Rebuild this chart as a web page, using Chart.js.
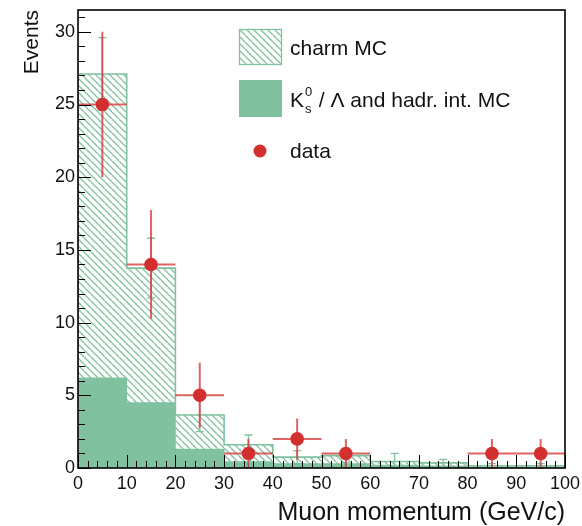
<!DOCTYPE html>
<html lang="en">
<head>
<meta charset="UTF-8">
<title>Muon momentum spectrum</title>
<script src="https://cdn.jsdelivr.net/npm/chart.js"></script>
<style>
  body { margin:0; background:#fff; }
  canvas { display:block; }
</style>
</head>
<body>
<canvas id="muonChart" width="582" height="526"></canvas>
<script>
// 10 GeV/c wide momentum bins, given by their centres
const binCentres = [5, 15, 25, 35, 45, 55, 65, 75, 85, 95];
const binHalfWidth = 5;

// stacked MC: hadronic background at the bottom, charm on top
const hadrMC  = [6.2, 4.5, 1.3, 0.45, 0.3, 0.3, 0.2, 0.15, 0.07, 0.07];
const charmMC = [20.9, 9.25, 2.35, 1.15, 0.45, 0.55, 0.25, 0.2, 0.08, 0.08];
const mcErr   = [2.5, 2.05, 1.15, 0.67, 0.45, 0.5, 0.55, 0.25, 0.15, 0.15];

// measured events (null = empty bin)
const dataEvents = [25, 14, 5, 1, 2, 1, null, null, 1, 1];
const dataErr    = [5, 3.74, 2.24, 1, 1.41, 1, null, null, 1, 1];

const xTickValues = [0, 10, 20, 30, 40, 50, 60, 70, 80, 90, 100];
const yTickValues = [0, 5, 10, 15, 20, 25, 30];
const xMinorStep = 2, yMinorStep = 1;

const GREEN = '#80c1a0';
const RED = '#d32f2f';
const RED_LINE = 'rgba(214,60,60,0.8)';
const FONT = '"Liberation Sans", Arial, sans-serif';

const ctx = document.getElementById('muonChart').getContext('2d');

// diagonal "\\\" hatching for the charm component
function hatch(color) {
  const s = 7;
  const c = document.createElement('canvas');
  c.width = s; c.height = s;
  const g = c.getContext('2d');
  g.strokeStyle = color; g.lineWidth = 1.3;
  g.beginPath();
  for (let k = -1; k <= 1; k++) { g.moveTo(k * s, 0); g.lineTo(k * s + s, s); }
  g.stroke();
  return ctx.createPattern(c, 'repeat');
}
const hatchFill = hatch(GREEN);

const mcTotal = hadrMC.map((h, i) => h + charmMC[i]);
const last = binCentres.length - 1;

// step outline of the stacked MC (each point holds until the next x)
const outline = [{ x: binCentres[0] - binHalfWidth, y: 0 }];
binCentres.forEach((c, i) => outline.push({ x: c - binHalfWidth, y: mcTotal[i] }));
outline.push({ x: binCentres[last] + binHalfWidth, y: mcTotal[last] });
outline.push({ x: binCentres[last] + binHalfWidth, y: 0 });

const dataPoints = binCentres
  .map((c, i) => ({ x: c, y: dataEvents[i] }))
  .filter(p => p.y !== null);

// error bars: MC total uncertainty (green) and data (red), under the markers
const errorBars = {
  id: 'errorBars',
  beforeDatasetDraw(chart, args) {
    if (chart.data.datasets[args.index].label !== 'data') return;
    const { ctx, scales: { x, y } } = chart;
    ctx.save();
    ctx.strokeStyle = GREEN; ctx.lineWidth = 1.3;
    binCentres.forEach((c, i) => {
      const px = x.getPixelForValue(c);
      const lo = y.getPixelForValue(Math.max(0, mcTotal[i] - mcErr[i]));
      const hi = y.getPixelForValue(mcTotal[i] + mcErr[i]);
      ctx.beginPath();
      ctx.moveTo(px, lo); ctx.lineTo(px, hi);
      ctx.moveTo(px - 4, lo); ctx.lineTo(px + 4, lo);
      ctx.moveTo(px - 4, hi); ctx.lineTo(px + 4, hi);
      ctx.stroke();
    });
    ctx.strokeStyle = RED_LINE; ctx.lineWidth = 2;
    binCentres.forEach((c, i) => {
      if (dataEvents[i] === null) return;
      const px = x.getPixelForValue(c), py = y.getPixelForValue(dataEvents[i]);
      ctx.beginPath();
      ctx.moveTo(x.getPixelForValue(c - binHalfWidth), py);
      ctx.lineTo(x.getPixelForValue(c + binHalfWidth), py);
      ctx.moveTo(px, y.getPixelForValue(Math.max(0, dataEvents[i] - dataErr[i])));
      ctx.lineTo(px, y.getPixelForValue(dataEvents[i] + dataErr[i]));
      ctx.stroke();
    });
    ctx.restore();
  }
};

// ROOT-style frame with inward major/minor ticks
const frame = {
  id: 'frame',
  afterDatasetsDraw(chart) {
    const { ctx, chartArea: a, scales: { x, y } } = chart;
    ctx.save();
    ctx.strokeStyle = '#000'; ctx.lineWidth = 1;
    ctx.beginPath();
    for (let v = x.min; v <= x.max + 1e-9; v += xMinorStep) {
      const px = Math.round(x.getPixelForValue(v)) + 0.5;
      const len = v % 10 === 0 ? 13 : 7;
      ctx.moveTo(px, a.bottom); ctx.lineTo(px, a.bottom - len);
    }
    for (let v = y.min; v <= y.max + 1e-9; v += yMinorStep) {
      const py = Math.round(y.getPixelForValue(v)) + 0.5;
      const len = v % 5 === 0 ? 13 : 7;
      ctx.moveTo(a.left, py); ctx.lineTo(a.left + len, py);
    }
    ctx.stroke();
    ctx.lineWidth = 1.6;
    ctx.strokeRect(a.left, a.top, a.right - a.left, a.bottom - a.top);
    ctx.restore();
  }
};

const legend = {
  id: 'histLegend',
  afterDraw(chart) {
    const { ctx } = chart;
    ctx.save();
    ctx.fillStyle = hatchFill;
    ctx.fillRect(239, 29, 43, 36);
    ctx.strokeStyle = GREEN; ctx.lineWidth = 1.3;
    ctx.strokeRect(239.5, 29.5, 42, 35);
    ctx.fillStyle = GREEN;
    ctx.fillRect(239, 80, 43, 37);
    ctx.fillStyle = RED;
    ctx.beginPath(); ctx.arc(260, 151, 6.5, 0, Math.PI * 2); ctx.fill();

    ctx.fillStyle = '#111';
    ctx.textBaseline = 'alphabetic';
    ctx.font = '21px ' + FONT;
    ctx.fillText('charm MC', 290, 55);
    ctx.fillText('K', 290, 107);
    const kw = ctx.measureText('K').width;
    ctx.fillText(' / \u039b and hadr. int. MC', 290 + kw + 9, 107);
    ctx.fillText('data', 290, 158);
    ctx.font = '13px ' + FONT;
    ctx.fillText('0', 290 + kw + 1, 96);
    ctx.fillText('s', 290 + kw + 1, 113);
    ctx.restore();
  }
};

new Chart(ctx, {
  type: 'bar',
  data: {
    datasets: [
      {
        label: 'data', type: 'scatter', order: 0,
        data: dataPoints,
        pointRadius: 6.8, pointHoverRadius: 6.8,
        backgroundColor: RED, borderWidth: 0
      },
      {
        label: 'MC outline', type: 'line', order: 1,
        data: outline, stepped: 'before',
        borderColor: GREEN, borderWidth: 1.6,
        pointRadius: 0, fill: false
      },
      {
        label: 'charm MC', order: 2, grouped: false,
        data: binCentres.map((c, i) => ({ x: c, y: [hadrMC[i], mcTotal[i]] })),
        backgroundColor: hatchFill, borderWidth: 0,
        barPercentage: 1, categoryPercentage: 1
      },
      {
        label: 'hadr MC', order: 3, grouped: false,
        data: binCentres.map((c, i) => ({ x: c, y: hadrMC[i] })),
        backgroundColor: GREEN, borderWidth: 0,
        barPercentage: 1, categoryPercentage: 1
      }
    ]
  },
  options: {
    responsive: false,
    animation: false,
    layout: { padding: { top: 10, right: 17, left: 0, bottom: 0 } },
    plugins: { legend: { display: false }, tooltip: { enabled: false } },
    scales: {
      x: {
        type: 'linear', min: 0, max: 100, offset: false,
        grid: { display: false, drawTicks: false },
        border: { display: false },
        afterBuildTicks: s => { s.ticks = xTickValues.map(v => ({ value: v })); },
        afterFit: s => { s.height = 58; s.paddingLeft = 0; s.paddingRight = 0; },
        ticks: {
          autoSkip: false, maxRotation: 0, padding: 5, color: '#111',
          font: { family: FONT, size: 18 }
        },
        title: {
          display: true, text: 'Muon momentum (GeV/c)', align: 'end', color: '#111',
          font: { family: FONT, size: 25, lineHeight: 1 }, padding: 0
        }
      },
      y: {
        min: 0, max: 31.5,
        grid: { display: false, drawTicks: false },
        border: { display: false },
        afterBuildTicks: s => { s.ticks = yTickValues.map(v => ({ value: v })); },
        afterFit: s => { s.width = 78; s.paddingTop = 0; s.paddingBottom = 0; },
        ticks: {
          autoSkip: false, padding: 3, color: '#111',
          font: { family: FONT, size: 18 }
        },
        title: {
          display: true, text: 'Events', align: 'end', color: '#111',
          font: { family: FONT, size: 21, lineHeight: 1 }, padding: { top: 22, bottom: 0 }
        }
      }
    }
  },
  plugins: [errorBars, frame, legend]
});
</script>
</body>
</html>
